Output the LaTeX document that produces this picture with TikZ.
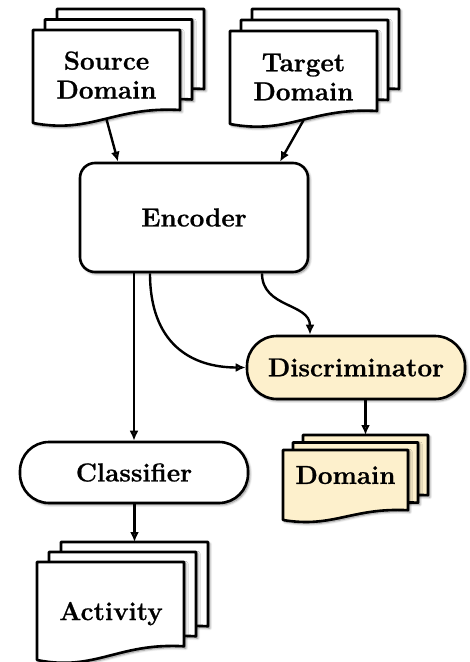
\documentclass[tikz,border=0pt]{standalone}
\usepackage{fontspec}
\setmainfont{Latin Modern Roman}[BoldFeatures={FakeBold=0.8}]
\usetikzlibrary{arrows.meta,shadows.blur,calc}

\definecolor{discfill}{RGB}{253,240,204}

\tikzset{
  outline/.style={draw=black, line width=2.6pt, line join=round},
  softshadow/.style={blur shadow={shadow xshift=1.8pt, shadow yshift=-1.8pt,
      shadow blur radius=2.4pt, shadow blur steps=6, shadow opacity=50}},
  sheet/.style={outline, softshadow},
  doctext/.style={font=\bfseries\fontsize{26}{29}\selectfont, align=center,
      inner sep=0pt, text depth=0pt},
  procbox/.style={outline, softshadow, fill=white,
      font=\bfseries\fontsize{26}{29}\selectfont,
      minimum width=228pt, inner sep=0pt},
  flow/.style={line width=2.4pt, -{Latex[length=10pt,width=9pt]}},
}

% A stack of three document sheets: name, x, y (front sheet top-left),
% width, height, offset dx, offset dy, fill colour
\newcommand\docstack[8]{%
  \foreach \k in {2,1,0}{%
    \pgfmathsetmacro\sx{#2+\k*#6}%
    \pgfmathsetmacro\sy{#3-\k*#7}%
    \draw[sheet, fill=#8] (\sx,\sy) -- (\sx+#4,\sy) -- (\sx+#4,\sy+0.86*#5)
      .. controls (\sx+0.55*#4,\sy+0.82*#5) and (\sx+0.4*#4,\sy+1.12*#5) ..
      (\sx,\sy+#5) -- cycle;
  }%
  \coordinate (#1-top) at (#2+2*#6+0.5*#4, #3-2*#7);%
  \coordinate (#1-out) at (#2+0.5*#4, #3+0.96*#5);%
}

\begin{document}
\begin{tikzpicture}[x=1pt, y=-1pt]
  \useasboundingbox (0,0) rectangle (470,662);

  % inputs
  \docstack{src}{33}{30}{147}{93}{12}{10.5}{white}
  \node[doctext] (src) at (106.5,75) {Source\\Domain};
  \docstack{tgt}{230}{31}{147}{93}{11}{11}{white}
  \node[doctext] (tgt) at (303.5,77) {Target\\Domain};

  % processing blocks
  \node[procbox, minimum height=109pt, rounded corners=15pt] (enc) at (194,217.5) {Encoder};
  \node[procbox, fill=discfill, minimum width=218pt, minimum height=63pt,
        rounded corners=30pt] (disc) at (356,367.5) {Discriminator};
  \node[procbox, minimum height=61pt, rounded corners=29pt] (cls) at (134,472.5) {Classifier};

  % outputs
  \docstack{dom}{283}{450}{125}{70}{10}{7.5}{discfill}
  \node[doctext] (dom) at (345.5,475) {Domain};
  \docstack{act}{37}{562}{147}{98}{12}{10}{white}
  \node[doctext] (act) at (111,611) {Activity};

  % connectors
  \draw[flow] (src-out) -- ([xshift=-76pt]enc.north);
  \draw[flow] (tgt-out) -- ([xshift=86pt]enc.north);
  \draw[flow] (enc.south -| cls.north) -- (cls.north);
  \draw[flow] ([xshift=-44pt]enc.south) .. controls +(0,70) and +(-55,0) .. (disc.west);
  \draw[flow] ([xshift=68pt]enc.south) .. controls +(0,35) and +(0,-32) .. ([xshift=-46pt]disc.north);
  \draw[flow] (dom-top |- disc.south) -- (dom-top);
  \draw[flow] (act-top |- cls.south) -- (act-top);
\end{tikzpicture}
\end{document}
